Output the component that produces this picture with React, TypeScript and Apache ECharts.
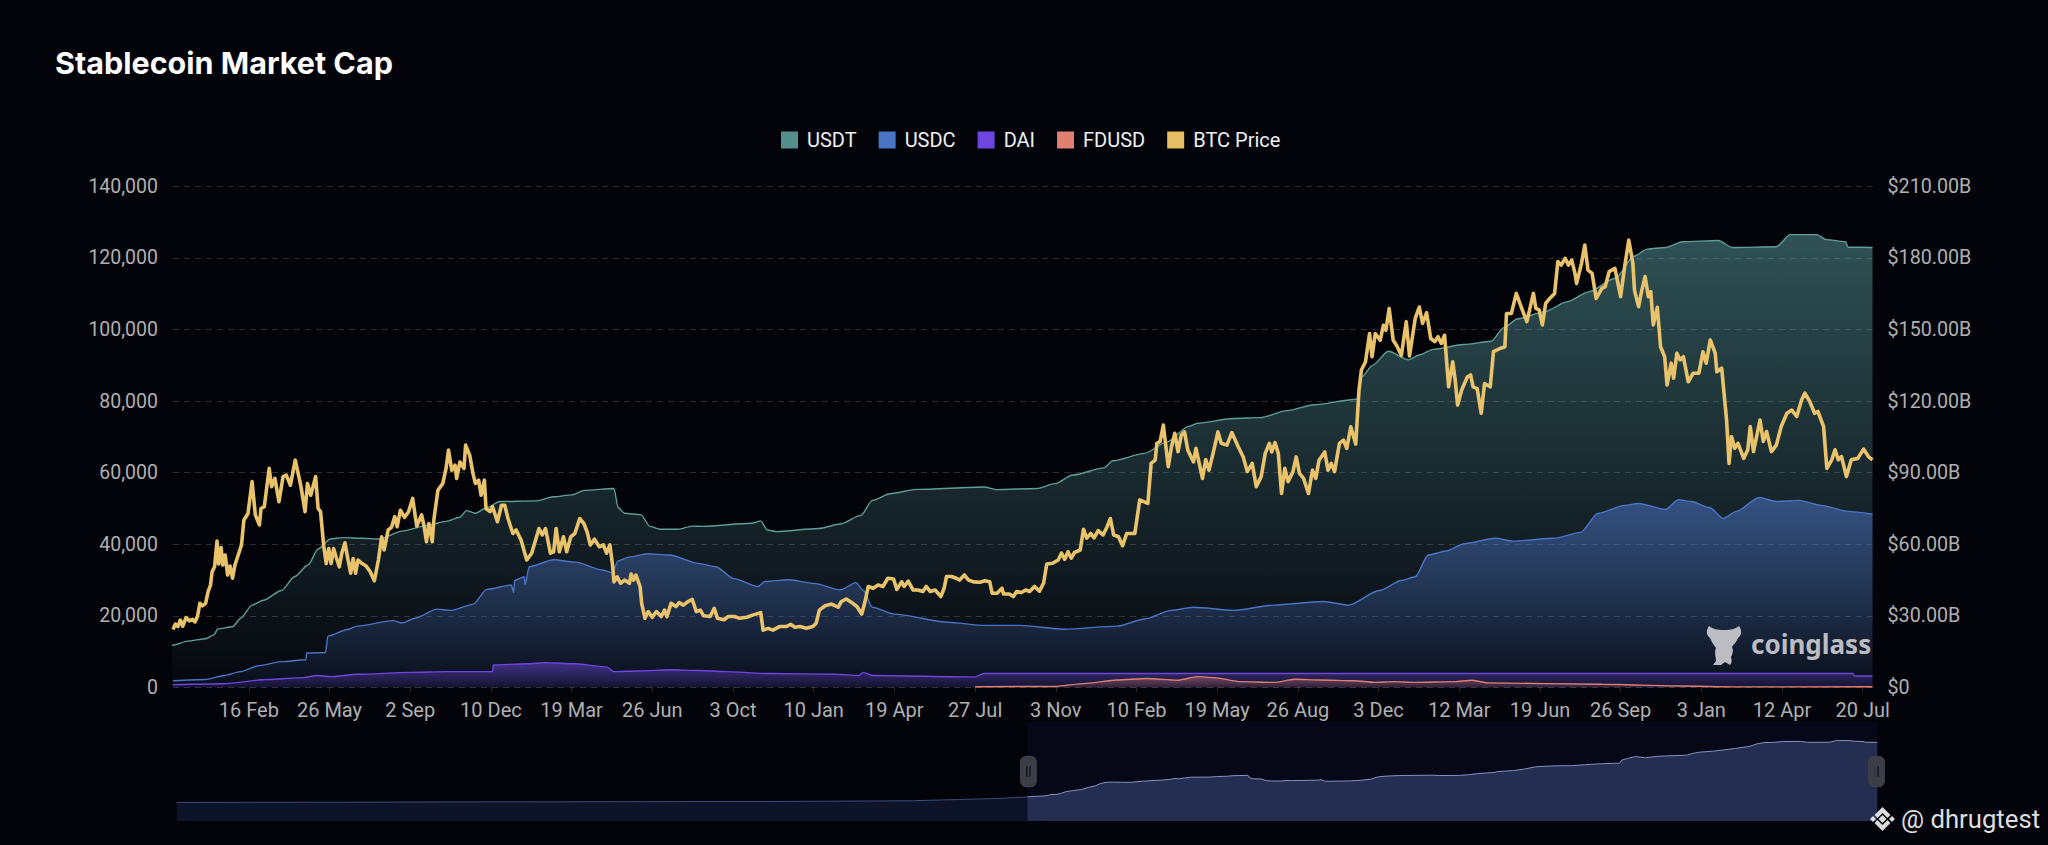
import React, { useEffect, useRef } from "react";
import * as echarts from "echarts";

const tickLabels = ["16 Feb","26 May","2 Sep","10 Dec","19 Mar","26 Jun","3 Oct","10 Jan","19 Apr","27 Jul","3 Nov","10 Feb","19 May","26 Aug","3 Dec","12 Mar","19 Jun","26 Sep","3 Jan","12 Apr","20 Jul"];
const legendNames = ["USDT","USDC","DAI","FDUSD","BTC Price"];

// [days since the first visible day, $B]
const usdtHistory = [[-2087,0.8],[-1058,2.9],[-626,3.8],[-282,5.9],[-196,8.9],[-75,12.8]];
const usdtPoints = [[0,17.7],[18,19.4],[40,20.4],[50,22.0],[55,24.5],[73,25.4],[83,29.0],[97,34.5],[111,36.5],[133,40.6],[149,46.4],[166,51.4],[178,58.0],[193,62.2],[209,62.8],[231,62.5],[253,62.2],[281,65.5],[313,68.0],[335,69.6],[352,71.3],[360,74.1],[371,73.0],[385,75.4],[401,77.9],[445,78.2],[467,79.9],[489,80.7],[505,82.6],[541,83.4],[546,75.4],[554,73.0],[574,72.4],[585,67.5],[598,66.3],[620,66.3],[637,67.6],[650,67.5],[710,68.8],[721,69.8],[729,66.0],[740,65.3],[792,66.6],[819,68.5],[844,72.1],[858,78.4],[880,81.2],[912,83.0],[995,84.0],[1011,82.9],[1060,83.4],[1082,85.4],[1104,89.0],[1142,92.0],[1153,95.0],[1192,98.1],[1219,102.8],[1246,109.4],[1257,110.7],[1301,112.7],[1334,113.1],[1367,116.0],[1400,118.5],[1449,120.7],[1453,121.0],[1458,130.1],[1472,135.1],[1491,140.9],[1516,137.3],[1529,139.3],[1546,141.7],[1584,143.7],[1617,145.1],[1633,150.9],[1650,154.5],[1683,157.5],[1710,161.6],[1737,165.8],[1770,171.6],[1792,180.7],[1809,183.7],[1831,184.4],[1852,186.8],[1896,187.3],[1913,184.4],[1967,184.7],[1984,189.8],[2017,189.8],[2028,187.7],[2052,186.8],[2055,184.5],[2085,184.4]];
const usdcPoints = [[0,2.8],[40,3.3],[62,4.9],[83,6.6],[105,9.1],[133,10.8],[163,11.6],[164,14.4],[187,14.6],[190,21.5],[215,24.4],[226,25.7],[270,28.0],[281,27.0],[297,29.0],[324,32.8],[341,32.3],[368,34.8],[385,41.1],[415,42.9],[418,39.8],[419,44.8],[431,46.4],[432,43.1],[437,50.6],[467,53.5],[494,52.5],[527,49.2],[539,48.1],[546,53.0],[560,54.7],[582,56.0],[609,55.5],[646,51.9],[666,50.6],[688,45.6],[718,42.3],[726,44.4],[756,45.1],[786,43.6],[819,40.9],[838,43.9],[847,40.6],[858,33.6],[885,30.7],[951,27.3],[995,26.0],[1038,26.0],[1093,24.4],[1159,25.7],[1192,28.7],[1225,32.3],[1252,33.6],[1301,32.3],[1351,34.5],[1411,36.0],[1442,34.5],[1480,40.6],[1507,44.8],[1524,46.4],[1540,55.5],[1562,57.2],[1584,60.2],[1622,62.5],[1644,61.3],[1694,62.5],[1727,65.0],[1748,72.9],[1781,76.3],[1798,77.1],[1831,74.6],[1847,78.7],[1863,77.9],[1885,75.4],[1902,70.8],[1918,73.8],[1946,79.6],[1967,77.9],[1995,78.4],[2022,76.3],[2055,73.8],[2085,72.6]];
const daiPoints = [[0,1.1],[61,1.5],[116,3.3],[160,4.1],[177,5.0],[193,4.5],[226,5.5],[292,6.3],[335,6.6],[392,6.6],[393,9.4],[434,9.9],[456,10.4],[494,9.9],[532,8.6],[541,6.6],[571,6.9],[609,7.4],[646,7.1],[677,6.6],[732,5.8],[814,5.5],[841,5.0],[847,6.3],[858,5.0],[984,4.4],[995,5.8],[2061,5.8],[2063,4.8],[2085,4.8]];
const fdusdPoints = [[984,0.3],[1079,0.4],[1121,1.7],[1158,3.1],[1195,3.7],[1232,3.0],[1257,4.5],[1277,4.1],[1310,2.4],[1351,2.1],[1376,3.4],[1408,3.1],[1449,2.8],[1474,2.1],[1499,2.4],[1523,2.1],[1572,2.4],[1593,3.0],[1613,1.9],[1753,1.3],[1851,0.6],[1917,0.2],[2085,0.3]];

// [days since the first visible day, thousands of USD]
const btcPointsA = [[0,16.2],[3,17.7],[6,17.0],[9,18.8],[12,17.1],[16,19.5],[20,18.6],[24,19.0],[27,18.3],[30,19.8],[33,23.5],[36,22.8],[40,23.5],[43,26.7],[46,28.6],[48,32.3],[51,33.7],[54,40.9],[56,34.5],[59,39.1],[61,34.2],[64,37.0],[67,31.4],[70,33.9],[73,30.5],[76,34.2],[80,37.0],[84,39.8],[87,46.8],[92,48.6],[97,57.5],[101,48.2],[106,45.4],[108,50.0],[112,50.5],[118,61.2],[121,56.1],[125,58.4],[130,51.9],[135,58.9],[139,59.3],[144,56.5],[150,63.5],[154,59.3],[157,56.1],[162,49.1],[165,57.0],[169,53.7],[175,58.9],[178,50.0],[181,49.1],[185,39.3],[188,34.6],[191,38.8],[194,34.6],[197,38.8],[200,36.5],[204,33.7],[207,37.4],[211,40.4],[214,36.5],[218,31.9],[221,36.0],[224,31.9],[227,35.6],[232,34.6],[237,33.9],[242,32.3],[247,29.8],[252,35.6],[256,42.1],[259,38.4],[264,44.0],[268,44.7],[272,47.7],[275,44.9],[279,49.5],[284,47.5],[289,49.1],[294,52.8],[299,45.1],[305,48.2],[308,45.1],[311,40.7],[314,45.8],[318,40.7],[320,46.8],[325,55.1],[331,57.0],[335,61.2],[338,66.3],[342,60.7],[346,62.1],[348,58.4],[352,63.0],[357,61.2],[359,67.7],[364,64.9],[368,59.8],[371,57.0],[375,57.9],[378,53.7],[382,57.9],[384,50.0],[389,49.1],[392,50.5],[398,46.3],[403,50.9],[407,50.9],[411,47.2]];
const btcPointsB = [[417,43.0],[421,44.0],[427,41.2],[434,35.6],[440,37.5],[446,42.1],[449,44.4],[453,42.6],[457,44.4],[463,37.5],[467,37.9],[470,44.4],[474,37.9],[479,42.1],[483,37.9],[488,42.1],[493,43.0],[499,47.2],[504,45.8],[508,43.5],[512,39.8],[517,41.4],[523,39.3],[528,39.8],[532,37.5],[536,39.8],[539,34.7],[541,29.5],[545,30.9],[549,29.1],[554,30.0],[560,29.1],[562,31.7],[565,30.0],[568,31.4],[573,28.2],[575,23.5],[579,19.3],[583,21.2],[588,19.6],[593,21.2],[599,19.8],[603,21.6],[606,19.8],[611,23.5],[617,22.6],[621,23.7],[626,23.0],[632,24.0],[637,24.6],[642,21.2],[647,21.6],[651,20.0],[659,19.8],[664,22.1],[668,19.3],[676,18.9],[681,19.8],[689,19.8],[695,19.3],[704,19.6],[711,20.2],[721,20.9],[724,16.0],[730,16.5],[736,16.0],[744,17.0],[752,17.0],[758,17.6],[763,16.8],[769,17.0],[777,16.5],[785,17.0],[789,17.9],[793,21.6],[800,22.8],[808,23.3],[816,22.4],[820,24.0],[826,24.7]];
const btcPointsC = [[834,23.5],[839,22.6],[845,20.5],[849,24.0],[853,28.2],[859,27.7],[865,28.6],[871,28.2],[877,30.5],[884,30.3],[888,27.4],[894,29.5],[897,28.2],[902,29.7],[908,27.2],[914,27.2],[920,26.8],[924,28.2],[929,26.8],[935,27.2],[942,25.4],[946,27.7],[949,31.0],[955,31.0],[961,30.5],[965,30.0],[971,31.4],[976,30.0],[982,29.5],[990,29.4],[996,29.8],[1002,29.5],[1005,26.3],[1011,26.3],[1017,27.7],[1019,26.1],[1026,26.1],[1031,25.4],[1035,26.8],[1041,26.5],[1046,27.2],[1051,26.8],[1057,28.2],[1063,26.9],[1068,29.1],[1072,34.5],[1079,34.7],[1086,35.6],[1090,37.5],[1094,35.8],[1098,37.9],[1102,36.1],[1106,37.7],[1113,38.4],[1117,44.2],[1121,41.7],[1126,43.0],[1130,41.8],[1135,43.8],[1141,42.6],[1146,44.9],[1150,47.2],[1154,42.6],[1160,42.1],[1165,39.6],[1170,43.0],[1180,43.0],[1186,52.4],[1196,51.4],[1200,62.6],[1205,63.5],[1207,68.2],[1211,68.7],[1215,73.3],[1221,61.7],[1225,67.3],[1229,71.0],[1233,65.9],[1237,70.5],[1241,71.4],[1245,66.3]];
const btcPointsD = [[1252,63.0],[1255,66.8],[1259,62.6],[1263,58.4],[1267,63.7],[1271,60.7],[1276,65.4],[1282,71.4],[1286,68.2],[1293,67.7],[1299,71.2],[1307,67.2],[1313,64.4],[1318,60.3],[1324,62.6],[1329,56.1],[1335,58.9],[1340,65.4],[1345,68.2],[1348,65.8],[1352,68.4],[1356,65.4],[1360,54.2],[1364,61.2],[1368,57.5],[1374,60.3],[1378,64.4],[1382,59.8],[1387,58.4],[1393,54.2],[1398,60.7],[1402,58.4],[1406,63.5],[1413,65.8],[1417,60.7],[1421,62.6],[1425,60.3],[1431,68.2],[1436,69.1],[1440,66.8],[1445,72.8],[1451,68.0],[1455,83.1],[1458,88.7],[1463,91.0],[1468,98.9],[1471,92.4],[1475,98.9],[1481,97.0],[1485,101.2],[1488,99.8],[1492,105.9],[1497,97.0],[1501,95.6],[1507,92.8],[1513,102.2],[1517,92.6],[1524,103.1],[1529,106.3],[1533,101.7],[1538,104.7],[1543,97.5],[1548,96.6],[1552,98.0],[1556,96.1],[1560,98.4],[1565,84.0],[1570,91.0],[1573,85.9],[1576,78.9],[1581,83.1],[1588,86.8],[1592,87.3],[1595,84.0],[1600,83.5],[1605,76.6],[1609,84.9],[1616,84.0],[1620,93.8],[1628,94.7],[1634,95.2],[1636,104.5],[1642,104.5],[1648,110.1],[1654,106.3],[1661,102.2]];
const btcPointsE = [[1669,110.1],[1672,105.9],[1676,105.5],[1680,101.3],[1684,107.3],[1689,108.7],[1695,110.1],[1699,119.0],[1703,118.0],[1708,119.9],[1712,118.0],[1716,119.4],[1720,115.7],[1722,112.9],[1728,118.5],[1732,123.6],[1736,116.6],[1741,115.7],[1746,108.7],[1753,111.5],[1757,112.0],[1762,116.2],[1769,117.1],[1776,109.2],[1781,117.6],[1786,125.0],[1791,118.5],[1793,111.0],[1798,106.4],[1802,111.0],[1806,114.8],[1810,109.2],[1813,110.6],[1816,101.3],[1821,106.2],[1825,95.2],[1830,92.4],[1833,84.5],[1838,90.6],[1841,86.4],[1845,93.4],[1849,91.5],[1853,92.4],[1859,85.4],[1865,87.8],[1872,87.8],[1877,93.8],[1881,90.6],[1886,97.1],[1892,93.4],[1894,88.2],[1900,89.2],[1904,79.4],[1906,74.7],[1909,62.6],[1912,70.1],[1916,66.8],[1920,68.2],[1927,64.0],[1932,66.4],[1935,72.9],[1939,65.9],[1947,74.7],[1951,68.7],[1955,71.5],[1961,65.9],[1967,67.7],[1973,72.9],[1980,76.6],[1986,77.5],[1992,75.7],[1998,80.3],[2002,82.2],[2008,79.9],[2014,76.6],[2018,77.1],[2025,72.9],[2029,61.2],[2035,63.6],[2039,66.4],[2043,63.6],[2047,64.5],[2053,58.9],[2059,63.6],[2067,64.0],[2074,66.6],[2080,64.5],[2085,63.6]];

const DAY = 86400000;
const firstDay = Date.UTC(2019, 10, 15);
const firstTickDay = 93;
const tickStepDays = 99;
const historyDays = 2087;
const lastDay = 2085;
const toTime = (d: number) => firstDay + d * DAY;
const tickDays = tickLabels.map((_, i) => firstTickDay + i * tickStepDays);
const toPairs = (pts: number[][], k = 1) => pts.map(([d, v]) => [toTime(d), v * k]);

const FONT = "Roboto";
const bg = "#03030a";

const gradient = (r: number, g: number, b: number, top: number, bottom: number) => ({
  type: "linear", x: 0, y: 0, x2: 0, y2: 1,
  colorStops: [
    { offset: 0, color: `rgba(${r},${g},${b},${top})` },
    { offset: 1, color: `rgba(${r},${g},${b},${bottom})` },
  ],
});

const areaSeries = (name: string, pts: number[][], swatch: string, color: string, fill: any, width = 1.4) => ({
  name, type: "line", xAxisIndex: 0, yAxisIndex: 1, showSymbol: false, symbol: "none", data: toPairs(pts),
  smooth: 0.25, smoothMonotone: "x",
  itemStyle: { color: swatch }, lineStyle: { color, width }, areaStyle: { color: fill },
});

echarts.graphic.registerShape("cgBull", echarts.graphic.extendPath(
  "M4 2 C8 5 12 6 19 6 C26 6 30 5 34 2 C37 6 37 11 33 14 C31 19 28 21 27 23 C29 27 27 31 26 33 C27 36 27 39 25 41 L20 38 L16 41 L8 41 L11 37 C11 33 9 28 11 24 C9 21 7 19 5 14 C1 11 1 6 4 2 Z", {}));

const diamond = (cx: number, cy: number, rx: number, ry: number) => ({
  type: "polygon", silent: true, z: 20,
  shape: { points: [[cx, cy - ry], [cx + rx, cy], [cx, cy + ry], [cx - rx, cy]] },
  style: { fill: "#dcdcdc" },
});
const chevron = (cx: number, cy: number, dir: number) => ({
  type: "polygon", silent: true, z: 20,
  shape: { points: [[cx - 8, cy + dir * 4], [cx, cy - dir * 4], [cx + 8, cy + dir * 4], [cx + 5, cy + dir * 7], [cx, cy + dir * 2], [cx - 5, cy + dir * 7]] },
  style: { fill: "#dcdcdc" },
});

export default function App() {
  const ref = useRef<HTMLDivElement>(null);
  useEffect(() => {
    document.body.style.margin = "0";
    document.body.style.background = bg;
    const chart = echarts.init(ref.current!, undefined, { renderer: "svg" });
    const btc = [...btcPointsA, ...btcPointsB, ...btcPointsC, ...btcPointsD, ...btcPointsE];
    chart.setOption({
      animation: false,
      useUTC: true,
      backgroundColor: bg,
      textStyle: { fontFamily: FONT },
      title: {
        text: "Stablecoin Market Cap", left: 50, top: 42,
        textStyle: { color: "#ffffff", fontFamily: "Inter", fontWeight: 700, fontSize: 30.5 },
      },
      legend: {
        data: legendNames, left: 781, top: 130, padding: 0, icon: "rect", itemWidth: 17, itemHeight: 17, itemGap: 22,
        textStyle: { color: "#f0f0f0", fontSize: 20, fontFamily: FONT, padding: [0, 0, 0, 4] },
      },
      grid: { left: 173, top: 186.4, width: 1699.5, height: 501 },
      xAxis: [
        {
          type: "time", min: toTime(-historyDays), max: toTime(lastDay), show: false,
          splitLine: { show: false },
        },
        {
          type: "value", min: 0, max: lastDay, position: "bottom",
          axisLine: { show: false },
          splitLine: { show: false },
          axisTick: { show: true, customValues: tickDays, length: 5, lineStyle: { color: "rgba(255,255,255,0.14)" } },
          axisLabel: {
            customValues: tickDays, color: "#b0b0b0", fontSize: 20, fontFamily: FONT, margin: 13, hideOverlap: false,
            formatter: (v: number) => tickLabels[tickDays.indexOf(v)] ?? "",
          },
        },
      ],
      yAxis: [
        {
          type: "value", min: 0, max: 140000, interval: 20000, position: "left",
          axisLine: { show: false }, axisTick: { show: false },
          splitLine: { show: true, lineStyle: { color: "rgba(255,255,255,0.16)", type: [6, 5], width: 1 } },
          axisLabel: { color: "#b0b0b0", fontSize: 19.5, fontFamily: FONT, margin: 15, padding: [0, 0, 4, 0], formatter: (v: number) => v.toLocaleString("en-US") },
        },
        {
          type: "value", min: 0, max: 210, interval: 30, position: "right",
          axisLine: { show: false }, axisTick: { show: false }, splitLine: { show: false },
          axisLabel: { color: "#b0b0b0", fontSize: 19.7, fontFamily: FONT, margin: 15, padding: [0, 0, 4, 0], formatter: (v: number) => (v === 0 ? "$0" : `$${v}.00B`) },
        },
      ],
      dataZoom: [{
        type: "slider", xAxisIndex: 0, filterMode: "none",
        startValue: toTime(0), endValue: toTime(lastDay),
        left: 174, width: 1701, top: 722, height: 99,
        backgroundColor: "transparent", borderColor: "transparent",
        fillerColor: "rgba(50,70,150,0.09)",
        showDetail: false, brushSelect: false, moveHandleSize: 0,
        handleIcon: "path://M6 0 H10 A6 6 0 0 1 16 6 V24 A6 6 0 0 1 10 30 H6 A6 6 0 0 1 0 24 V6 A6 6 0 0 1 6 0 Z M6 10 V20 H7 V10 Z M9 10 V20 H10 V10 Z",
        handleSize: "32%",
        handleStyle: { color: "#3c3d46", borderColor: "transparent", borderWidth: 0 },
        dataBackground: { lineStyle: { color: "#3d4a7a", width: 1, opacity: 1 }, areaStyle: { color: "#0d1328", opacity: 1 } },
        selectedDataBackground: { lineStyle: { color: "#8c9ac4", width: 1, opacity: 1 }, areaStyle: { color: "#222c4a", opacity: 1 } },
      }],
      series: [
        areaSeries("USDT", [...usdtHistory, ...usdtPoints], "#53908c", "#5f9e98", gradient(96, 168, 168, 0.68, 0.03)),
        areaSeries("USDC", usdcPoints, "#4a74c4", "#4a74c4", gradient(78, 120, 205, 0.76, 0.08)),
        areaSeries("DAI", daiPoints, "#6d46e0", "#6d46e0", gradient(112, 72, 228, 0.72, 0.15)),
        areaSeries("FDUSD", fdusdPoints, "#e08070", "#e08070", gradient(224, 128, 112, 0.55, 0.18)),
        {
          name: "BTC Price", type: "line", xAxisIndex: 0, yAxisIndex: 0, showSymbol: false, symbol: "none",
          data: toPairs(btc, 1000), itemStyle: { color: "#e5bd63" },
          lineStyle: { color: "#e9c36b", width: 3.6, join: "round" }, z: 5,
        },
      ],
      graphic: [
        { type: "cgBull", x: 1705, y: 624, scaleX: 1, scaleY: 1, silent: true, z: 20, style: { fill: "#bcbdc3" } },
        { type: "text", x: 1751, y: 644, silent: true, z: 20, style: { text: "coinglass", fill: "#bcbdc3", fontFamily: "Noto Sans", fontWeight: 700, fontSize: 26, textVerticalAlign: "middle" } },
        diamond(1882.5, 819, 4, 4),
        diamond(1873, 819, 3, 3),
        diamond(1892, 819, 3, 3),
        chevron(1882.5, 811, 1),
        chevron(1882.5, 827, -1),
        { type: "text", x: 1901, y: 819, silent: true, z: 20, style: { text: "@ dhrugtest", fill: "#dedede", fontFamily: FONT, fontSize: 25.7, textVerticalAlign: "middle" } },
      ],
    });
    return () => chart.dispose();
  }, []);
  return <div ref={ref} style={{ position: "absolute", left: 0, top: 0, width: 2048, height: 845 }} />;
}
